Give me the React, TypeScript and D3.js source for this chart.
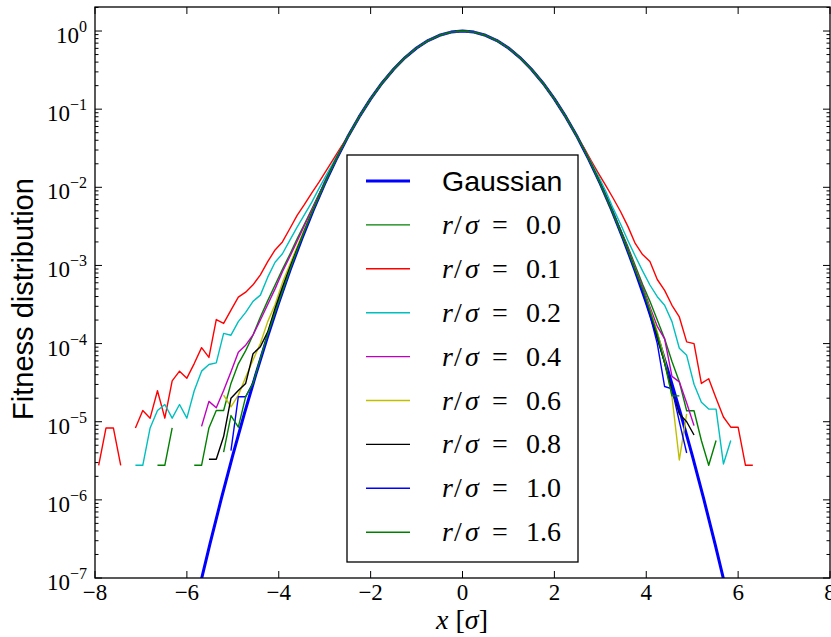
import React from "react";
import * as d3 from "d3";

const W = 831;
const H = 637;

const xTicks = [-8, -6, -4, -2, 0, 2, 4, 6, 8];
const yExponents = [0, -1, -2, -3, -4, -5, -6, -7];

// Reference Gaussian exp(-x^2/2), values read at x step 0.25
const gaussX = [
  -6, -5.75, -5.5, -5.25, -5, -4.75, -4.5, -4.25, -4, -3.75, -3.5, -3.25, -3, -2.75, -2.5, -2.25, -2, -1.75,
  -1.5, -1.25, -1, -0.75, -0.5, -0.25, 0, 0.25, 0.5, 0.75, 1, 1.25, 1.5, 1.75, 2, 2.25, 2.5, 2.75, 3, 3.25,
  3.5, 3.75, 4, 4.25, 4.5, 4.75, 5, 5.25, 5.5, 5.75, 6,
];
const gaussY = [
  1.523e-8, 6.6e-8, 2.7e-7, 1.035e-6, 3.727e-6, 1.262e-5, 4.007e-5, 1.196e-4, 3.355e-4, 8.84e-4, 2.187e-3,
  5.086e-3, 1.111e-2, 2.279e-2, 4.394e-2, 7.955e-2, 0.1353, 0.2163, 0.3247, 0.4578, 0.6065, 0.7548, 0.8825,
  0.9692, 1, 0.9692, 0.8825, 0.7548, 0.6065, 0.4578, 0.3247, 0.2163, 0.1353, 7.955e-2, 4.394e-2, 2.279e-2,
  1.111e-2, 5.086e-3, 2.187e-3, 8.84e-4, 3.355e-4, 1.196e-4, 4.007e-5, 1.262e-5, 3.727e-6, 1.035e-6, 2.7e-7,
  6.6e-8, 1.523e-8,
];

// histogram bin centres of the tails
const leftBins = [
  -7.92, -7.76, -7.6, -7.44, -7.28, -7.12, -6.96, -6.8, -6.64, -6.48, -6.32, -6.16, -6, -5.84, -5.68, -5.52,
  -5.36, -5.2, -5.04, -4.88, -4.72, -4.56, -4.4, -4.24, -4.08, -3.92, -3.76, -3.6, -3.44, -3.28, -3.12, -2.96,
  -2.8, -2.64,
];
const rightBins = [
  2.64, 2.8, 2.96, 3.12, 3.28, 3.44, 3.6, 3.76, 3.92, 4.08, 4.24, 4.4, 4.56, 4.72, 4.88, 5.04, 5.2, 5.36, 5.52,
  5.68, 5.84, 6, 6.16, 6.32,
];

// Left tails: aligned so the last value sits at x = -2.64
const left00 = [
  2.77e-6, 2.77e-6, 8.32e-6, null, null, 2.77e-6, 2.77e-6, 8.32e-6, 1.39e-5, 1.39e-5, 3.09e-5, 5.5e-5, 8.13e-5,
  1.29e-4, 2.19e-4, 3.55e-4, 5.62e-4, 8.91e-4, 1.38e-3, 2.19e-3, 3.39e-3, 5.25e-3, 8.32e-3, 1.29e-2, 2.0e-2,
  3.09e-2,
];
const left01 = [
  2.77e-6, 8.32e-6, 8.32e-6, 2.77e-6, null, 8.32e-6, 1.39e-5, 1.11e-5, 2.49e-5, 1.11e-5, 3.33e-5, 4.44e-5,
  3.61e-5, 5.55e-5, 8.87e-5, 6.65e-5, 2.03e-4, 1.81e-4, 2.68e-4, 3.93e-4, 4.55e-4, 5.65e-4, 7.59e-4, 1.12e-3,
  1.58e-3, 2.0e-3, 2.95e-3, 4.37e-3, 6.03e-3, 8.51e-3, 1.17e-2, 1.66e-2, 2.34e-2, 3.31e-2,
];
const left02 = [
  2.77e-6, 2.77e-6, 8.32e-6, 1.39e-5, 1.66e-5, 1.11e-5, 1.66e-5, 1.11e-5, 2.49e-5, 4.44e-5, 5.4e-5, 5.66e-5,
  1.35e-4, 1.28e-4, 1.91e-4, 2.51e-4, 3.47e-4, 4.17e-4, 7.08e-4, 1.1e-3, 1.41e-3, 2.09e-3, 3.09e-3, 4.47e-3,
  6.46e-3, 9.77e-3, 1.45e-2, 2.14e-2, 3.16e-2,
];
const left04 = [
  8.71e-6, 1.82e-5, 1.51e-5, 2.51e-5, 4.37e-5, 7.76e-5, 9.55e-5, 1.29e-4, 2.0e-4, 3.16e-4, 5.01e-4, 8.32e-4,
  1.29e-3, 2.04e-3, 3.24e-3, 5.13e-3, 8.13e-3, 1.29e-2, 2.0e-2, 3.09e-2,
];
const left06 = [
  2.19e-5, 1.55e-5, 2.19e-5, 3.72e-5, 6.17e-5, 1.0e-4, 1.91e-4, 3.16e-4, 6.03e-4, 1.02e-3, 1.74e-3, 2.88e-3,
  4.79e-3, 7.76e-3, 1.26e-2, 2.0e-2, 3.09e-2,
];
const left08 = [
  3.31e-6, 3.31e-6, 6.46e-6, 2.0e-5, 2.51e-5, 3.09e-5, 7.41e-5, 9.12e-5, 1.41e-4, 2.82e-4, 5.25e-4, 9.33e-4,
  1.62e-3, 2.75e-3, 4.68e-3, 7.76e-3, 1.26e-2, 2.0e-2, 3.09e-2,
];
const left10 = [
  4.27e-6, 2.09e-5, 2.09e-5, 3.16e-5, 6.31e-5, 1.26e-4, 2.45e-4, 4.57e-4, 8.51e-4, 1.55e-3, 2.69e-3, 4.57e-3,
  7.76e-3, 1.26e-2, 2.0e-2, 3.09e-2,
];
const left16 = [
  4.07e-6, 1.2e-5, 8.51e-6, 2.09e-5, 3.09e-5, 6.46e-5, 1.32e-4, 2.51e-4, 4.68e-4, 8.71e-4, 1.58e-3, 2.75e-3,
  4.68e-3, 7.76e-3, 1.26e-2, 2.0e-2, 3.09e-2,
];

// Right tails: first value sits at x = 2.64
const right00 = [
  3.09e-2, 2.0e-2, 1.26e-2, 7.76e-3, 4.68e-3, 2.88e-3, 1.74e-3, 1.0e-3, 5.75e-4, 3.47e-4, 2.0e-4, 1.15e-4,
  5.89e-5, 3.24e-5, 1.38e-5, 1.38e-5, 5.75e-6, 2.77e-6, 5.75e-6,
];
const right01 = [
  3.24e-2, 2.19e-2, 1.51e-2, 1.05e-2, 7.24e-3, 4.9e-3, 3.16e-3, 1.91e-3, 1.38e-3, 1.12e-3, 6.61e-4, 4.79e-4,
  3.09e-4, 2.19e-4, 1.05e-4, 1.0e-4, 3.09e-5, 3.55e-5, 2.0e-5, 1.15e-5, 8.51e-6, 8.51e-6, 2.77e-6, 2.77e-6,
];
const right02 = [
  3.16e-2, 2.09e-2, 1.38e-2, 8.91e-3, 5.37e-3, 3.39e-3, 2.09e-3, 1.32e-3, 8.51e-4, 5.62e-4, 3.98e-4, 3.09e-4,
  1.91e-4, 8.71e-5, 7.08e-5, 3.02e-5, 1.78e-5, 1.45e-5, 1.45e-5, 2.88e-6, 5.75e-6,
];
const right04 = [
  3.09e-2, 2.0e-2, 1.26e-2, 7.76e-3, 4.68e-3, 2.82e-3, 1.66e-3, 9.33e-4, 5.37e-4, 2.95e-4, 1.66e-4, 1.15e-4,
  3.8e-5, 3.24e-5, 1.74e-5, 8.91e-6,
];
const right06 = [
  3.09e-2, 2.0e-2, 1.26e-2, 7.59e-3, 4.57e-3, 2.75e-3, 1.58e-3, 8.91e-4, 5.01e-4, 2.75e-4, 1.41e-4, 6.31e-5,
  2.09e-5, 3.24e-6, 1.26e-5,
];
const right08 = [
  3.09e-2, 2.0e-2, 1.26e-2, 7.59e-3, 4.57e-3, 2.75e-3, 1.55e-3, 8.71e-4, 4.79e-4, 2.4e-4, 1.2e-4, 5.62e-5,
  2.51e-5, 1.26e-5, 1.0e-5, 6.76e-6,
];
const right10 = [
  3.07e-2, 1.99e-2, 1.25e-2, 7.69e-3, 4.61e-3, 2.69e-3, 1.53e-3, 8.51e-4, 4.57e-4, 2.34e-4, 1.0e-4, 2.82e-5,
  2.63e-5, 1.0e-5, 3.98e-6,
];
const right16 = [
  3.07e-2, 1.99e-2, 1.25e-2, 7.69e-3, 4.61e-3, 2.69e-3, 1.55e-3, 8.71e-4, 5.01e-4, 2.63e-4, 1.32e-4, 5.62e-5,
  2.14e-5, 2.14e-5,
];

const seriesLabels = ["0.0", "0.1", "0.2", "0.4", "0.6", "0.8", "1.0", "1.6"];
const seriesColors = ["#008000", "#ff0000", "#00bfbf", "#bf00bf", "#bfbf00", "#000000", "#0000ff", "#008000"];
const seriesLeft = [left00, left01, left02, left04, left06, left08, left10, left16];
const seriesRight = [right00, right01, right02, right04, right06, right08, right10, right16];

type Pt = { x: number; y: number | null };

function buildSeries(left: (number | null)[], right: (number | null)[]): Pt[] {
  const pts: Pt[] = [];
  const off = leftBins.length - left.length;
  left.forEach((v, k) => pts.push({ x: leftBins[off + k], y: v }));
  gaussX.forEach((x, k) => {
    if (Math.abs(x) <= 2.5) pts.push({ x, y: gaussY[k] });
  });
  right.forEach((v, k) => pts.push({ x: rightBins[k], y: v }));
  return pts;
}

const PL = 95;
const PR = 830;
const PT = 7;
const PB = 578;

export default function App() {
  const x = d3.scaleLinear().domain([-8, 8]).range([PL, PR]);
  const y = d3.scaleLog().domain([1e-7, 2.03]).range([PB, PT]);

  const line = d3
    .line<Pt>()
    .defined((d) => d.y != null && (d.y as number) > 0)
    .x((d) => x(d.x))
    .y((d) => y(d.y as number));

  const gaussPts: Pt[] = gaussX.map((gx, k) => ({ x: gx, y: gaussY[k] }));
  const series = seriesLabels.map((_, i) => buildSeries(seriesLeft[i], seriesRight[i]));

  const minor: number[] = [];
  for (let e = -7; e <= 0; e++) {
    for (let m = 2; m <= 9; m++) {
      const v = m * Math.pow(10, e);
      if (v < 2.03) minor.push(v);
    }
  }

  const serif = "'Liberation Serif', 'Times New Roman', serif";
  const sans = "'Liberation Sans', Arial, sans-serif";
  const legX = 347;
  const legY = 155;
  const legW = 231;
  const legH = 407;
  const rowY = (i: number) => 181 + i * 43.9;

  return (
    <svg
      width={W}
      height={H}
      style={{ position: "absolute", left: 0, top: 0, background: "#fff" }}
      xmlns="http://www.w3.org/2000/svg"
    >
      <rect x={0} y={0} width={W} height={H} fill="#fff" />
      <defs>
        <clipPath id="plotClip">
          <rect x={PL} y={PT} width={PR - PL} height={PB - PT} />
        </clipPath>
      </defs>

      <g clipPath="url(#plotClip)">
        <path d={line(gaussPts) || ""} fill="none" stroke="#0000ff" strokeWidth={3} strokeLinejoin="round" />
        {series.map((pts, i) => (
          <path
            key={i}
            d={line(pts) || ""}
            fill="none"
            stroke={seriesColors[i]}
            strokeWidth={1.4}
            strokeLinejoin="round"
          />
        ))}
      </g>

      {/* ticks */}
      <g stroke="#000" strokeWidth={1}>
        {xTicks.map((t) => (
          <g key={"xt" + t}>
            <line x1={x(t)} x2={x(t)} y1={PB} y2={PB - 7} />
            <line x1={x(t)} x2={x(t)} y1={PT} y2={PT + 7} />
          </g>
        ))}
        {yExponents.map((e) => (
          <g key={"yt" + e}>
            <line x1={PL} x2={PL + 7} y1={y(Math.pow(10, e))} y2={y(Math.pow(10, e))} />
            <line x1={PR} x2={PR - 7} y1={y(Math.pow(10, e))} y2={y(Math.pow(10, e))} />
          </g>
        ))}
        {minor.map((v, k) => (
          <g key={"ym" + k}>
            <line x1={PL} x2={PL + 3.5} y1={y(v)} y2={y(v)} />
            <line x1={PR} x2={PR - 3.5} y1={y(v)} y2={y(v)} />
          </g>
        ))}
      </g>

      {/* spines */}
      <rect x={PL} y={PT} width={PR - PL} height={PB - PT} fill="none" stroke="#000" strokeWidth={1.3} />

      {/* x tick labels */}
      {xTicks.map((t) => (
        <text key={"xl" + t} x={x(t)} y={600} textAnchor="middle" fontFamily={serif} fontSize={23} fill="#000">
          {t < 0 ? "\u2212" + Math.abs(t) : String(t)}
        </text>
      ))}

      {/* y tick labels */}
      {yExponents.map((e) => (
        <text
          key={"yl" + e}
          x={87}
          y={y(Math.pow(10, e)) + 12}
          textAnchor="end"
          fontFamily={serif}
          fontSize={23}
          fill="#000"
        >
          10
          <tspan dy={-11} fontSize={16}>
            {e < 0 ? "\u2212" + Math.abs(e) : String(e)}
          </tspan>
        </text>
      ))}

      {/* axis labels */}
      <text x={462} y={629} textAnchor="middle" fontFamily={serif} fontSize={28} fill="#000">
        <tspan fontStyle="italic">x</tspan>
        <tspan> [</tspan>
        <tspan fontStyle="italic">σ</tspan>
        <tspan>]</tspan>
      </text>
      <text
        transform="translate(33,299) rotate(-90)"
        textAnchor="middle"
        fontFamily={sans}
        fontSize={29}
        fill="#000"
      >
        Fitness distribution
      </text>

      {/* legend */}
      <rect x={legX} y={legY} width={legW} height={legH} fill="#fff" stroke="#000" strokeWidth={1.3} />
      <line x1={366} x2={410} y1={rowY(0)} y2={rowY(0)} stroke="#0000ff" strokeWidth={3} />
      <text x={442} y={rowY(0) + 10} fontFamily={sans} fontSize={28.5} fill="#000">
        Gaussian
      </text>
      {seriesLabels.map((lab, i) => {
        const yy = rowY(i + 1);
        return (
          <g key={"lg" + i}>
            <line x1={366} x2={410} y1={yy} y2={yy} stroke={seriesColors[i]} strokeWidth={1.4} />
            <text y={yy + 9} fontFamily={serif} fontSize={28} fill="#000">
              <tspan x={442} fontStyle="italic">r</tspan>
              <tspan x={454}>/</tspan>
              <tspan x={465} fontStyle="italic">σ</tspan>
              <tspan x={492}>=</tspan>
              <tspan x={526}>{lab}</tspan>
            </text>
          </g>
        );
      })}
    </svg>
  );
}
